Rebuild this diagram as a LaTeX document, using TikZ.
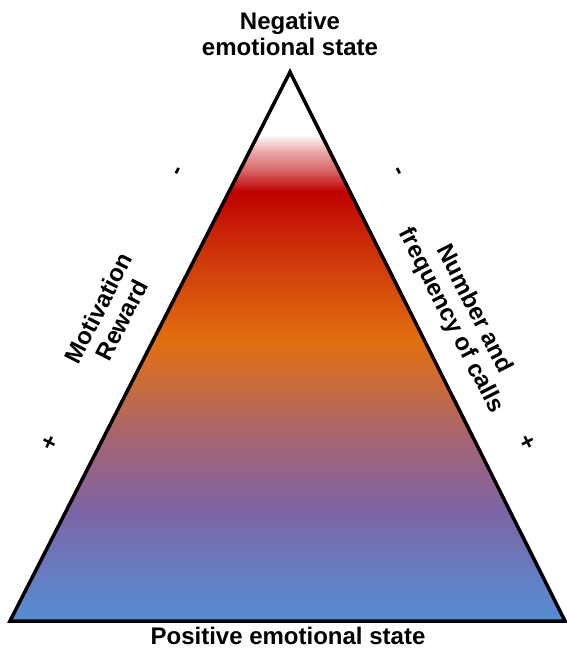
\documentclass[tikz,border=0pt]{standalone}
\usepackage{fontspec}
\setmainfont{Liberation Sans}
\definecolor{cBlue}{RGB}{86,140,210}
\definecolor{cBlueP}{RGB}{100,128,196}
\definecolor{cPurple}{RGB}{126,100,165}
\definecolor{cMauve}{RGB}{165,100,115}
\definecolor{cTan}{RGB}{205,108,55}
\definecolor{cOrange}{RGB}{226,110,15}
\definecolor{cRedOr}{RGB}{205,50,10}
\definecolor{cRed}{RGB}{192,0,0}
\definecolor{cPink}{RGB}{215,100,100}
\definecolor{cPale}{RGB}{238,175,175}
\pgfdeclareverticalshading{tri}{100bp}{color(0bp)=(cBlue); color(25bp)=(cBlue); color(28.7bp)=(cBlueP); color(35.1bp)=(cPurple); color(41.5bp)=(cMauve); color(47bp)=(cTan); color(50.6bp)=(cOrange); color(58.8bp)=(cRedOr); color(64.1bp)=(cRed); color(66bp)=(cPink); color(67.9bp)=(cPale); color(69.3bp)=(white); color(100bp)=(white)}
\begin{document}
\begin{tikzpicture}[x=1pt,y=-1pt,
  lab/.style={font=\fontsize{24}{26}\selectfont\bfseries, align=center, inner sep=0pt},
  sgn/.style={font=\fontsize{24}{26}\selectfont\bfseries, inner sep=0pt}]
\useasboundingbox (0,0) rectangle (566,649);
\coordinate (apex) at (290,72);
\coordinate (bl) at (10,621);
\coordinate (br) at (565,621);
\path[shading=tri] (apex) -- (bl) -- (br) -- cycle;
\draw[line width=3.5pt, line join=miter] (apex) -- (bl) -- (br) -- cycle;
\node[lab] (neg) at (290,34) {Negative\\emotional state};
\node[lab] (pos) at (288,635.5) {Positive emotional state};
\node[lab, rotate=63] (mot) at (110,314) {Motivation\\Reward};
\node[lab, rotate=-63] (num) at (462,315) {Number and\\frequency of calls};
\node[sgn, rotate=63] (lminus) at (180,172) {-};
\node[sgn, rotate=63] (lplus) at (50,443) {+};
\node[sgn, rotate=-63] (rminus) at (397,172) {-};
\node[sgn, rotate=-63] (rplus) at (527,443) {+};
\end{tikzpicture}
\end{document}
